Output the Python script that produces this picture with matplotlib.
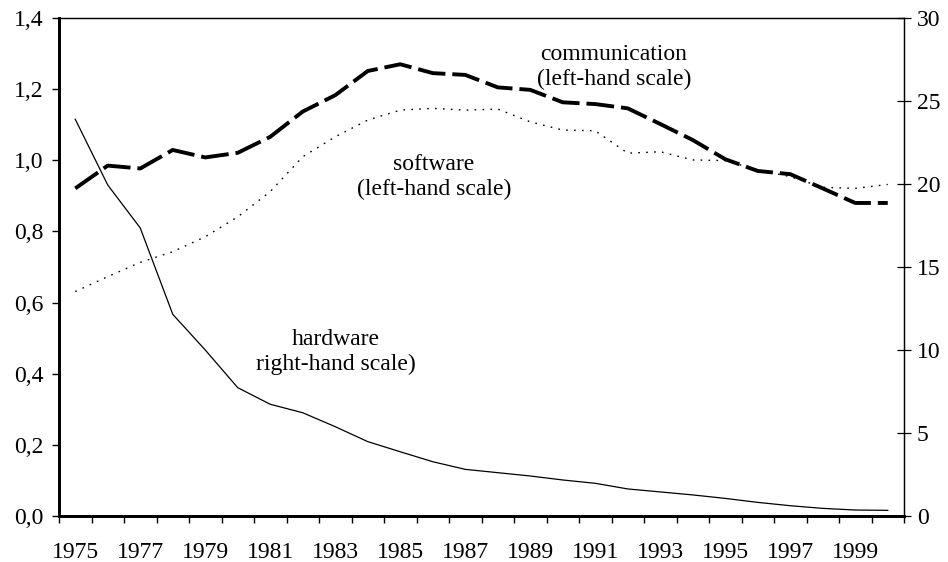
import matplotlib

matplotlib.use("Agg")

import numpy as np
from matplotlib import pyplot as plt

years = list(range(1975, 2001))

# left-hand scale
communication = [
    0.921, 0.985, 0.977, 1.029, 1.008, 1.021, 1.066, 1.137, 1.183, 1.251,
    1.270, 1.245, 1.240, 1.205, 1.198, 1.163, 1.158, 1.146, 1.102, 1.057,
    1.003, 0.970, 0.961, 0.921, 0.880, 0.880,
]
software = [
    0.631, 0.673, 0.713, 0.743, 0.785, 0.841, 0.912, 1.010, 1.066, 1.113,
    1.141, 1.146, 1.141, 1.144, 1.108, 1.085, 1.083, 1.020, 1.024, 1.001,
    0.999, 0.973, 0.954, 0.924, 0.921, 0.932,
]
# right-hand scale
hardware = [
    23.9, 19.94, 17.35, 12.15, 10.0, 7.73, 6.73, 6.22, 5.38, 4.48,
    3.87, 3.27, 2.81, 2.61, 2.41, 2.17, 1.97, 1.63, 1.45, 1.27,
    1.06, 0.82, 0.62, 0.46, 0.36, 0.34,
]

left_ticks = [0.0, 0.2, 0.4, 0.6, 0.8, 1.0, 1.2, 1.4]
right_ticks = [0, 5, 10, 15, 20, 25, 30]

plt.rcParams["font.family"] = ["Liberation Serif", "DejaVu Serif"]

fig = plt.figure(figsize=(9.48, 5.62), dpi=100)
ax = fig.add_axes([59 / 948, 46 / 562, 845 / 948, 498 / 562])
ax2 = ax.twinx()

pos = np.arange(len(years)) + 0.5

ax.plot(pos, communication, color="black", linewidth=2.8,
        dashes=(20 / 2.8, 5 / 2.8), solid_capstyle="butt", dash_capstyle="butt")
ax.plot(pos, software, color="black", linewidth=1.0, dashes=(1.2, 4.5))
ax2.plot(pos, hardware, color="black", linewidth=0.9)

ax.set_xlim(0, len(years))
ax.set_ylim(0, 1.4)
ax2.set_ylim(0, 30)

# x axis: ticks at category boundaries, labels at centres of odd years
ax.set_xticks(np.arange(len(years) + 1))
ax.set_xticklabels([])
label_pos = [p for p, y in zip(pos, years) if y % 2 == 1]
ax.set_xticks(label_pos, minor=True)
ax.set_xticklabels([str(y) for y in years if y % 2 == 1], minor=True, fontsize=17)
ax.tick_params(axis="x", which="major", direction="out", length=5.3, width=1.0)
ax.tick_params(axis="x", which="minor", length=0, pad=19)

ax.set_yticks(left_ticks)
ax.set_yticklabels([f"{v:.1f}".replace(".", ",") for v in left_ticks], fontsize=17)
ax.tick_params(axis="y", direction="out", length=5.3, width=1.0, pad=6)

ax2.set_yticks(right_ticks)
ax2.set_yticklabels([str(v) for v in right_ticks], fontsize=17)
ax2.tick_params(axis="y", direction="inout", length=10.5, width=0.9, pad=4)

for a in (ax, ax2):
    a.spines["left"].set_linewidth(2.0)
    a.spines["bottom"].set_linewidth(2.0)
    a.spines["top"].set_linewidth(0.9)
    a.spines["right"].set_linewidth(0.9)

fig.text(614 / 948, 1 - 67 / 562, "communication\n(left-hand scale)", ha="center",
         va="center", fontsize=17, linespacing=1.25)
fig.text(434 / 948, 1 - 177 / 562, "software\n(left-hand scale)", ha="center",
         va="center", fontsize=17, linespacing=1.25)
fig.text(336 / 948, 1 - 352 / 562, "hardware\nright-hand scale)", ha="center",
         va="center", fontsize=17, linespacing=1.25)

fig.savefig("out.png", dpi=100)
